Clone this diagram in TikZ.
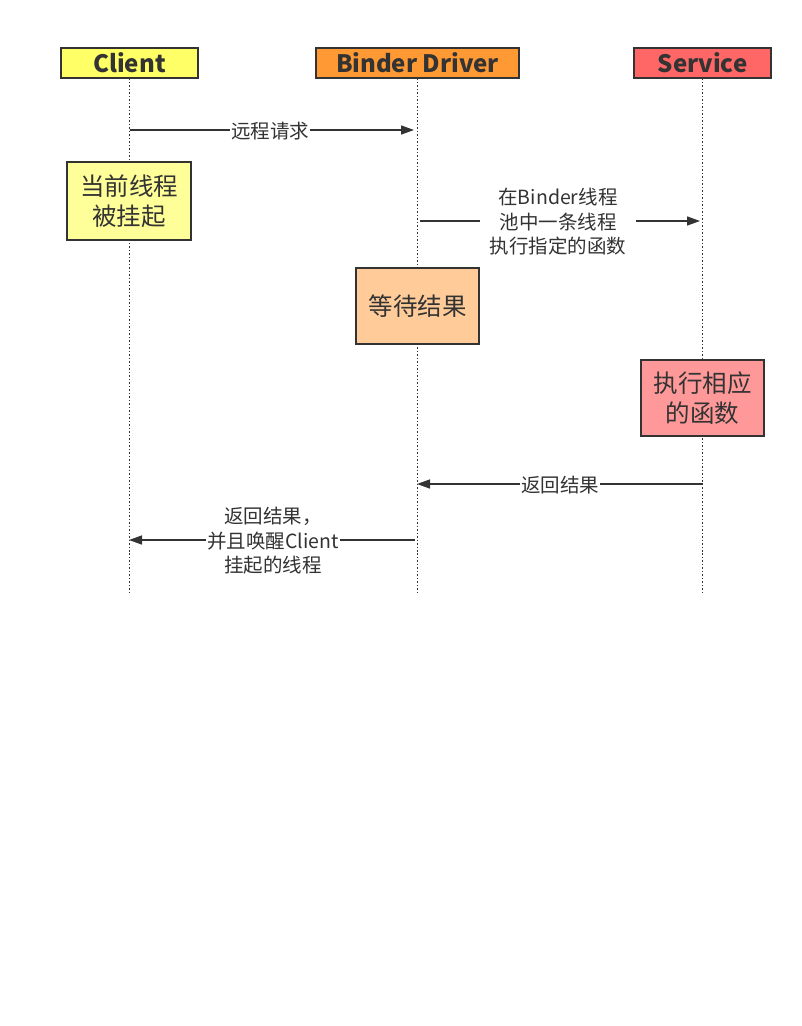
\documentclass[tikz,border=0pt]{standalone}
\usepackage{fontspec}
\setmainfont{Noto Sans CJK SC}
\usetikzlibrary{arrows.meta}
\definecolor{ink}{HTML}{333333}
\definecolor{clientc}{HTML}{FFFF66}
\definecolor{driverc}{HTML}{FF9933}
\definecolor{servicec}{HTML}{FF6666}
\definecolor{clientbox}{HTML}{FFFF99}
\definecolor{driverbox}{HTML}{FFCC99}
\definecolor{servicebox}{HTML}{FF9999}
\begin{document}
\begin{tikzpicture}[x=1bp,y=-1bp,
  header/.style={draw=ink,line width=2bp,minimum height=30bp,inner sep=0pt,
    font=\fontsize{24bp}{28bp}\selectfont\bfseries,text=ink},
  actbox/.style={draw=ink,line width=1.5bp,inner sep=0pt,align=center,
    font=\fontsize{24.5bp}{30bp}\selectfont,text=ink},
  lifeline/.style={draw=ink,line width=1.5bp,dotted},
  msg/.style={draw=ink,line width=1.5bp,-{Triangle[length=13bp,width=9bp]}},
  msglabel/.style={fill=white,inner sep=1bp,align=center,text=ink,
    font=\fontsize{19.5bp}{24.5bp}\selectfont}]
\useasboundingbox[fill=white] (0,0) rectangle (802,1026);

% participants
\node[header,fill=clientc,minimum width=137bp] (client) at (129.5,62.5) {Client};
\node[header,fill=driverc,minimum width=203bp] (driver) at (417.5,62.5) {Binder Driver};
\node[header,fill=servicec,minimum width=137bp] (service) at (702.5,62.5) {Service};

% lifeline ends
\coordinate (clientEnd) at (129.5,595);
\coordinate (driverEnd) at (417.5,595);
\coordinate (serviceEnd) at (702.5,595);
\draw[lifeline] (client.south) -- (clientEnd);
\draw[lifeline] (driver.south) -- (driverEnd);
\draw[lifeline] (service.south) -- (serviceEnd);

% activation boxes
\node[actbox,fill=clientbox,minimum width=124bp,minimum height=78bp] (suspend) at (129,201) {当前线程\\被挂起};
\node[actbox,fill=driverbox,minimum width=123bp,minimum height=76bp] (wait) at (417.5,306) {等待结果};
\node[actbox,fill=servicebox,minimum width=123bp,minimum height=76bp] (exec) at (702.5,398) {执行相应\\的函数};

% message end points
\coordinate (m1a) at (129.5,130);
\coordinate (m1b) at (414,130);
\coordinate (m2a) at (420,221);
\coordinate (m2b) at (700,221);
\coordinate (m3a) at (702.5,484);
\coordinate (m3b) at (417,484);
\coordinate (m4a) at (415,540);
\coordinate (m4b) at (129,540);

% messages
\draw[msg] (m1a) -- (m1b);
\node[msglabel] (l1) at (270,131) {远程请求};
\draw[msg] (m2a) -- (m2b);
\node[msglabel,inner xsep=10bp] (l2) at (558,222) {在Binder线程\\池中一条线程\\执行指定的函数};
\draw[msg] (m3a) -- (m3b);
\node[msglabel] (l3) at (560,485) {返回结果};
\draw[msg] (m4a) -- (m4b);
\node[msglabel] (l4) at (273,541) {返回结果，\\并且唤醒Client\\挂起的线程};
\end{tikzpicture}
\end{document}
